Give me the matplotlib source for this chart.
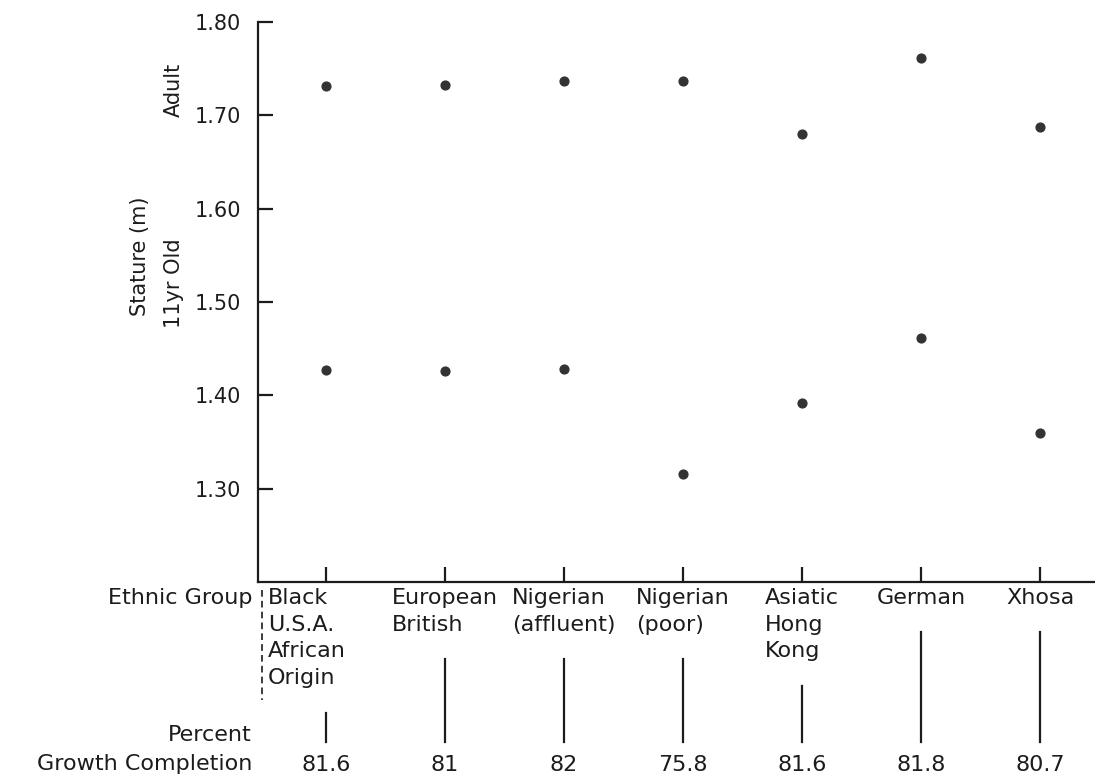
import matplotlib.pyplot as plt
import matplotlib.transforms as mtransforms

# stature of 11 year olds and adults by ethnic group
groups = ['Black\nU.S.A.\nAfrican\nOrigin', 'European\nBritish', 'Nigerian\n(affluent)',
          'Nigerian\n(poor)', 'Asiatic\nHong\nKong', 'German', 'Xhosa']
adult = [1.731, 1.733, 1.737, 1.737, 1.680, 1.761, 1.688]
child_11 = [1.427, 1.426, 1.428, 1.316, 1.392, 1.461, 1.360]
pct_complete = ['81.6', '81', '82', '75.8', '81.6', '81.8', '80.7']
yticks = [1.30, 1.40, 1.50, 1.60, 1.70, 1.80]

W, H = 1095, 776
ink = '#1c1c1c'
plt.rcParams['font.family'] = ['DejaVu Sans']

fig = plt.figure(figsize=(W / 100, H / 100), dpi=100)
ax = fig.add_axes([258 / W, 1 - 582 / H, 1 - 258 / W, (582 - 22) / H])

x = list(range(len(groups)))
ax.scatter(x, adult, s=40, color='#333333', zorder=3)
ax.scatter(x, child_11, s=40, color='#333333', zorder=3)

ax.set_xlim(-0.57, 6.46)
ax.set_ylim(1.20, 1.80)
ax.set_yticks(yticks)
ax.set_yticklabels([f'{v:.2f}' for v in yticks], fontsize=15, color=ink)
ax.set_xticks(x)
ax.set_xticklabels([])
ax.tick_params(axis='both', direction='in', length=11, width=1.6, color=ink)
ax.tick_params(axis='y', pad=12)
for side in ['top', 'right']:
    ax.spines[side].set_visible(False)
for side in ['left', 'bottom']:
    ax.spines[side].set_linewidth(1.6)
    ax.spines[side].set_color(ink)

# axis titles on the left
fig.text(140 / W, 1 - 256 / H, 'Stature (m)', rotation=90, ha='center', va='center',
         fontsize=15, color=ink)
fig.text(174 / W, 1 - 90 / H, 'Adult', rotation=90, ha='center', va='center',
         fontsize=15, color=ink)
fig.text(174 / W, 1 - 283 / H, '11yr Old', rotation=90, ha='center', va='center',
         fontsize=15, color=ink)

# group names, connector lines and percent growth completion under the axis
trans = mtransforms.blended_transform_factory(ax.transData, fig.transFigure)
line_px = 27
for xi, name, pct in zip(x, groups, pct_complete):
    if xi == 0:
        # first block sits right against the dashed separator
        fig.text(268 / W, 1 - 588 / H, name, ha='left', va='top', fontsize=16,
                 color=ink, linespacing=1.41)
    else:
        ax.text(xi, 1 - 588 / H, name, transform=trans, ha='center', va='top',
                multialignment='left', fontsize=16, color=ink, linespacing=1.41)
    n = name.count('\n') + 1
    top = 590 + line_px * n + 15
    ax.plot([xi, xi], [1 - top / H, 1 - 742 / H], transform=trans, color=ink,
            lw=1.6, clip_on=False)
    ax.text(xi, 1 - 765 / H, pct, transform=trans, ha='center', va='center',
            fontsize=16, color=ink)

fig.text(252 / W, 1 - 588 / H, 'Ethnic Group', ha='right', va='top', fontsize=16, color=ink)
fig.text(252 / W, 1 - 735 / H, 'Percent', ha='right', va='center', fontsize=16, color=ink)
fig.text(252 / W, 1 - 764 / H, 'Growth Completion', ha='right', va='center',
         fontsize=16, color=ink)
fig.add_artist(plt.Line2D([262 / W, 262 / W], [1 - 590 / H, 1 - 700 / H],
                          transform=fig.transFigure, color=ink, lw=1.2, ls=(0, (4, 2.5))))

fig.savefig('out.png', dpi=100)
